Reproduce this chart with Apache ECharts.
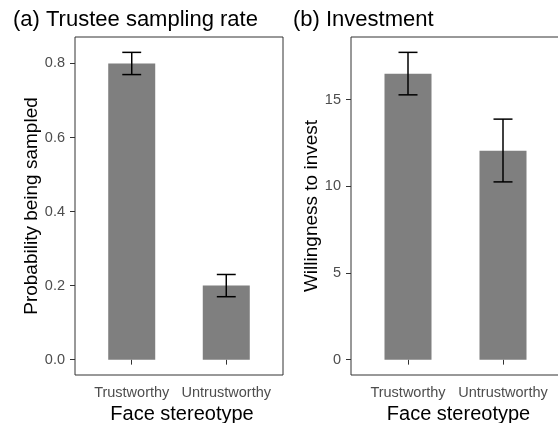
<!DOCTYPE html>
<html>
<head>
<meta charset="utf-8">
<script src="https://cdn.jsdelivr.net/npm/echarts@6/dist/echarts.min.js"></script>
<style>html,body{margin:0;padding:0;background:#fff}#c{width:558px;height:423px}</style>
</head>
<body>
<div id="c"></div>
<script>
// Data
var categories = ['Trustworthy', 'Untrustworthy'];
var samplingMean = [0.80, 0.20];
var samplingLow = [0.77, 0.17];
var samplingHigh = [0.83, 0.23];
var investMean = [16.48, 12.05];
var investLow = [15.27, 10.25];
var investHigh = [17.72, 13.87];
var samplingTicks = [0, 0.2, 0.4, 0.6, 0.8];
var investTicks = [0, 5, 10, 15];
var catPositions = [1, 2];

var FONT = '"Liberation Sans", Arial, sans-serif';
var gridA = {left: 75, top: 37, width: 208, height: 338};
var gridB = {left: 351, top: 37, width: 209, height: 338};

function pairs(vals) { return vals.map(function (v, i) { return [catPositions[i], v]; }); }
function errData(lo, hi) { return lo.map(function (v, i) { return [catPositions[i], v, hi[i]]; }); }

function errRender(params, api) {
  var x = api.value(0), lo = api.value(1), hi = api.value(2);
  var pLo = api.coord([x, lo]), pHi = api.coord([x, hi]);
  var cL = api.coord([x - 0.1, lo]), cR = api.coord([x + 0.1, lo]);
  var dL = api.coord([x - 0.1, hi]), dR = api.coord([x + 0.1, hi]);
  var st = {stroke: '#000', lineWidth: 1.5};
  return {type: 'group', children: [
    {type: 'line', shape: {x1: pLo[0], y1: pLo[1], x2: pHi[0], y2: pHi[1]}, style: st},
    {type: 'line', shape: {x1: cL[0], y1: cL[1], x2: cR[0], y2: cR[1]}, style: st},
    {type: 'line', shape: {x1: dL[0], y1: dL[1], x2: dR[0], y2: dR[1]}, style: st}
  ]};
}

function xAxisCfg(gi) {
  return {
    type: 'value', gridIndex: gi, min: 0.4, max: 2.6,
    name: 'Face stereotype', nameLocation: 'middle', nameGap: 26,
    nameTextStyle: {fontFamily: FONT, fontSize: 20, color: '#000', padding: [0, 0, 0, 6]},
    axisLine: {show: false},
    axisTick: {show: true, length: 5, lineStyle: {color: '#333'}, customValues: catPositions},
    axisLabel: {show: true, margin: 10, fontFamily: FONT, fontSize: 14.5, color: '#4d4d4d',
      customValues: catPositions,
      formatter: function (v) { return categories[Math.round(v) - 1]; }},
    splitLine: {show: false}
  };
}

function yAxisCfg(gi, mn, mx, ticks, name, gap, dec) {
  return {
    type: 'value', gridIndex: gi, min: mn, max: mx,
    name: name, nameLocation: 'middle', nameGap: gap,
    nameTextStyle: {fontFamily: FONT, fontSize: 19, color: '#000'},
    axisLine: {show: false},
    axisTick: {show: true, length: 5, lineStyle: {color: '#333'}, customValues: ticks},
    axisLabel: {show: true, margin: 10, fontFamily: FONT, fontSize: 14.5, color: '#4d4d4d',
      customValues: ticks,
      formatter: function (v) { return v.toFixed(dec); }},
    splitLine: {show: false}
  };
}

var gridStyle = {show: true, borderColor: '#333', borderWidth: 1, backgroundColor: 'transparent',
  outerBoundsMode: 'none', containLabel: false};

var chart = echarts.init(document.getElementById('c'), null, {renderer: 'canvas'});
chart.setOption({
  animation: false,
  backgroundColor: '#fff',
  title: [
    {text: '(a) Trustee sampling rate', left: 8, top: 4,
      textStyle: {fontFamily: FONT, fontSize: 22, fontWeight: 'normal', color: '#000'}},
    {text: '(b) Investment', left: 288, top: 4,
      textStyle: {fontFamily: FONT, fontSize: 22, fontWeight: 'normal', color: '#000'}}
  ],
  grid: [
    Object.assign({}, gridStyle, gridA),
    Object.assign({}, gridStyle, gridB)
  ],
  xAxis: [xAxisCfg(0), xAxisCfg(1)],
  yAxis: [
    yAxisCfg(0, -0.0415, 0.8715, samplingTicks, 'Probability being sampled', 32, 1),
    yAxisCfg(1, -0.886, 18.606, investTicks, 'Willingness to invest', 29, 0)
  ],
  series: [
    {type: 'bar', xAxisIndex: 0, yAxisIndex: 0, data: pairs(samplingMean), barWidth: 47,
      itemStyle: {color: '#7f7f7f'}},
    {type: 'custom', xAxisIndex: 0, yAxisIndex: 0, data: errData(samplingLow, samplingHigh),
      renderItem: errRender, encode: {x: 0, y: [1, 2]}, z: 5},
    {type: 'bar', xAxisIndex: 1, yAxisIndex: 1, data: pairs(investMean), barWidth: 47,
      itemStyle: {color: '#7f7f7f'}},
    {type: 'custom', xAxisIndex: 1, yAxisIndex: 1, data: errData(investLow, investHigh),
      renderItem: errRender, encode: {x: 0, y: [1, 2]}, z: 5}
  ]
});
</script>
</body>
</html>
